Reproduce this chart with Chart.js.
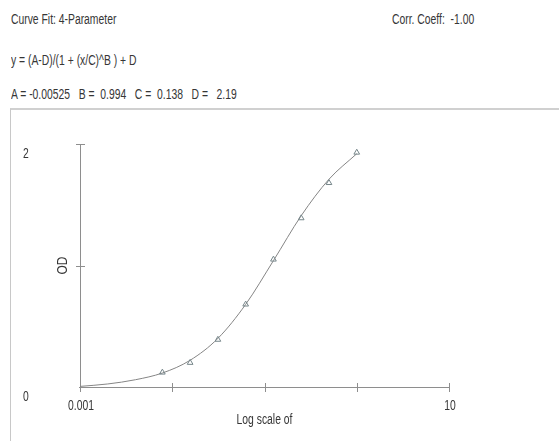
<!DOCTYPE html>
<html>
<head>
<meta charset="utf-8">
<script src="https://cdn.jsdelivr.net/npm/chart.js@4.4.1/dist/chart.umd.min.js"></script>
<style>
body{margin:0;background:#fff;width:559px;height:441px;overflow:hidden;position:relative;
  font-family:"Liberation Sans",Arial,sans-serif;color:#363636}
/* condensed look: regular sans squeezed horizontally */
.hdr{position:absolute;font-size:14px;line-height:16px;white-space:pre;transform:scaleX(0.74);transform-origin:0 0}
#frame{position:absolute;left:10px;top:108px;width:560px;height:340px;border-left:1px solid #c8c8c8;border-top:2px solid #d0d0d0}
#wrap{position:absolute;left:0;top:0;width:559px;height:441px}
</style>
</head>
<body>
<div class="hdr" style="left:11px;top:11px">Curve Fit: 4-Parameter</div>
<div class="hdr" style="left:392px;top:11px">Corr. Coeff:  -1.00</div>
<div class="hdr" style="left:11px;top:52px">y = (A-D)/(1 + (x/C)^B ) + D</div>
<div class="hdr" style="left:11px;top:86px">A = -0.00525   B =  0.994   C =  0.138   D =   2.19</div>
<div id="frame"></div>
<div id="wrap"><canvas id="fit" width="559" height="441"></canvas></div>
<script>
// standards (2-fold dilution series) and measured OD
const stdConc = [0.0078125, 0.015625, 0.03125, 0.0625, 0.125, 0.25, 0.5, 1];
const stdOD = [0.12, 0.20, 0.39, 0.68, 1.05, 1.39, 1.68, 1.93];

// fitted curve
const fitConc = [0.001, 0.002, 0.004, 0.0078125, 0.015625, 0.03125, 0.0625, 0.125, 0.25, 0.5, 1];
const fitOD = [0.005, 0.025, 0.06, 0.115, 0.22, 0.40, 0.68, 1.04, 1.41, 1.71, 1.92];

// axis ticks; only some get a label
const xTicks = [0.001, 0.01, 0.1, 1, 10];
const xTickLabels = ["0.001", "", "", "", "10"];
const yTicks = [0, 1, 2];
const yTickLabels = ["0", "", "2"];

const ink = "#363636";
const axisGray = "#8e8e8e";
const txtFont = '14px "Liberation Sans",Arial,sans-serif';

// squeezed text, centred on x,y
function narrowText(ctx, t, x, y) {
  ctx.save();
  ctx.translate(x, y);
  ctx.scale(0.74, 1);
  ctx.fillText(t, 0, 0);
  ctx.restore();
}

// hand drawn axes: crossing ticks, offset labels
const plotAxes = {
  id: "plotAxes",
  beforeDatasetsDraw(chart) {
    const {ctx} = chart;
    const xs = chart.scales.x, ys = chart.scales.y;
    const x0 = xs.getPixelForValue(xTicks[0]);
    const x1 = xs.getPixelForValue(xTicks[xTicks.length - 1]);
    const y0 = ys.getPixelForValue(0);
    const yTop = ys.getPixelForValue(yTicks[yTicks.length - 1]);

    ctx.save();
    ctx.strokeStyle = axisGray;
    ctx.lineWidth = 1;
    ctx.beginPath();
    ctx.moveTo(x0 + 0.5, yTop);
    ctx.lineTo(x0 + 0.5, y0);
    ctx.moveTo(x0 - 1, y0 + 0.5);
    ctx.lineTo(x1, y0 + 0.5);
    yTicks.forEach(v => {
      if (v === 0) return;
      const y = Math.round(ys.getPixelForValue(v)) + 0.5;
      ctx.moveTo(x0 - 4, y);
      ctx.lineTo(x0 + 5, y);
    });
    xTicks.forEach(v => {
      const x = Math.round(xs.getPixelForValue(v)) + 0.5;
      ctx.moveTo(x, y0 - 4);
      ctx.lineTo(x, y0 + 5);
    });
    ctx.stroke();

    ctx.fillStyle = ink;
    ctx.font = txtFont;
    ctx.textAlign = "center";
    ctx.textBaseline = "middle";
    yTicks.forEach((v, i) => {
      if (!yTickLabels[i]) return;
      narrowText(ctx, yTickLabels[i], 26, ys.getPixelForValue(v) + 10);
    });
    xTicks.forEach((v, i) => {
      if (!xTickLabels[i]) return;
      narrowText(ctx, xTickLabels[i], xs.getPixelForValue(v) + 1, y0 + 19);
    });
    narrowText(ctx, "Log scale of", (x0 + x1) / 2, y0 + 33);

    ctx.translate(x0 - 17, (y0 + yTop) / 2);
    ctx.rotate(-Math.PI / 2);
    ctx.scale(0.85, 1);
    ctx.fillText("OD", 0, 0);
    ctx.restore();
  }
};

new Chart(document.getElementById("fit"), {
  type: "scatter",
  data: {
    datasets: [
      {
        label: "fit",
        data: fitConc.map((c, i) => ({x: c, y: fitOD[i]})),
        showLine: true,
        borderColor: "#858585",
        borderWidth: 1,
        pointRadius: 0,
        cubicInterpolationMode: "monotone",
        order: 2
      },
      {
        label: "standards",
        data: stdConc.map((c, i) => ({x: c, y: stdOD[i]})),
        pointStyle: "triangle",
        pointRadius: 3.3,
        backgroundColor: "rgba(255,255,255,0)",
        borderColor: "#76868a",
        borderWidth: 1,
        order: 1
      }
    ]
  },
  options: {
    responsive: false,
    devicePixelRatio: 1,
    animation: false,
    layout: {padding: {left: 80, right: 110, top: 144, bottom: 54}},
    scales: {
      x: {type: "logarithmic", min: 0.001, max: 10, display: false},
      y: {type: "linear", min: 0, max: 2, display: false}
    },
    plugins: {legend: {display: false}, tooltip: {enabled: false}}
  },
  plugins: [plotAxes]
});
</script>
</body>
</html>
